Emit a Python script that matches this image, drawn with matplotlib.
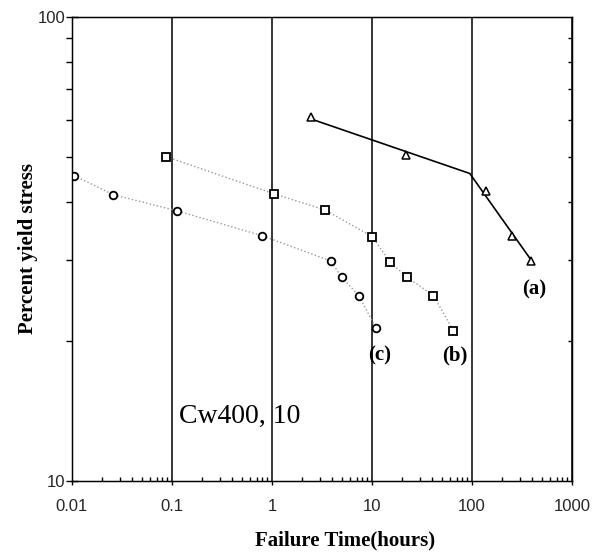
import matplotlib
matplotlib.use('Agg')
import matplotlib.pyplot as plt
from matplotlib.ticker import LogLocator, NullFormatter, FixedLocator

# (a) triangles and bilinear fit line
a_time = [2.45, 21.8, 137, 254, 390]
a_stress = [60.9, 50.3, 42.2, 33.8, 29.8]
a_fit_time = [2.45, 95, 405]
a_fit_stress = [60.3, 46.0, 29.6]

# (b) squares
b_time = [0.0875, 1.04, 3.38, 10.1, 15.0, 22.4, 41.2, 65]
b_stress = [50.0, 41.6, 38.4, 33.6, 29.7, 27.5, 25.1, 21.1]

# (c) circles
c_time = [0.0105, 0.026, 0.113, 0.79, 3.87, 4.97, 7.37, 10.9]
c_stress = [45.5, 41.4, 38.2, 33.8, 29.8, 27.5, 25.1, 21.4]

xticks = [0.01, 0.1, 1, 10, 100, 1000]
xticklabels = ['0.01', '0.1', '1', '10', '100', '1000']
yticks = [10, 100]
yticklabels = ['10', '100']

serif = ['Liberation Serif', 'DejaVu Serif']
sans = ['Liberation Sans', 'DejaVu Sans']

fig = plt.figure(figsize=(6.08, 5.59), dpi=100)
ax = fig.add_axes([72 / 608, 1 - 481 / 559, 500 / 608, 464 / 559])
ax.set_xscale('log')
ax.set_yscale('log')
ax.set_xlim(0.01, 1000)
ax.set_ylim(10, 100)

# vertical grid at each decade
for xv in xticks:
    ax.axvline(xv, color='black', lw=1.1, zorder=1)

ax.plot(c_time, c_stress, ls=':', color='0.6', lw=1, zorder=2)
ax.plot(b_time, b_stress, ls=':', color='0.6', lw=1, zorder=2)
ax.plot(a_fit_time, a_fit_stress, '-', color='black', lw=1.2, zorder=2)

ax.plot(c_time, c_stress, 'o', ls='none', ms=5.5, mfc='white', mec='black', mew=1.3, zorder=3)
ax.plot(b_time, b_stress, 's', ls='none', ms=5.5, mfc='white', mec='black', mew=1.3, zorder=3)
ax.plot(a_time, a_stress, '^', ls='none', ms=6, mfc='white', mec='black', mew=1.1, zorder=3)

ax.text(417, 25.9, '(a)', family=serif, fontweight='bold', fontsize=15, ha='center', va='center')
ax.text(68, 18.6, '(b)', family=serif, fontweight='bold', fontsize=15, ha='center', va='center')
ax.text(11.9, 18.6, '(c)', family=serif, fontweight='bold', fontsize=15, ha='center', va='center')
ax.text(0.47, 13.8, 'Cw400, 10', family=serif, fontsize=20, ha='center', va='center')

ax.xaxis.set_major_locator(FixedLocator(xticks))
ax.set_xticklabels(xticklabels, family=sans, fontsize=12, color='0.15')
ax.xaxis.set_minor_locator(LogLocator(base=10, subs=range(2, 10)))
ax.xaxis.set_minor_formatter(NullFormatter())
ax.yaxis.set_major_locator(FixedLocator(yticks))
ax.set_yticklabels(yticklabels, family=sans, fontsize=12, color='0.15')
ax.yaxis.set_minor_locator(LogLocator(base=10, subs=range(2, 10)))
ax.yaxis.set_minor_formatter(NullFormatter())

ax.tick_params(axis='x', which='major', direction='out', length=3, width=1, pad=10)
ax.tick_params(axis='x', which='minor', direction='in', length=3, width=1)
ax.tick_params(axis='y', which='major', direction='inout', length=8, width=1, pad=1)
ax.tick_params(axis='y', which='minor', direction='out', length=4, width=1)

# right side: small inward minor ticks
ax2 = ax.twinx()
ax2.set_yscale('log')
ax2.set_ylim(10, 100)
ax2.yaxis.set_major_locator(FixedLocator([]))
ax2.yaxis.set_minor_locator(LogLocator(base=10, subs=range(2, 10)))
ax2.yaxis.set_minor_formatter(NullFormatter())
ax2.tick_params(axis='y', which='minor', direction='in', length=3, width=1)

for s in ax.spines.values():
    s.set_linewidth(1)

ax.set_xlabel('Failure Time(hours)', family=serif, fontweight='bold', fontsize=15)
ax.set_ylabel('Percent yield stress', family=serif, fontweight='bold', fontsize=15)
ax.xaxis.set_label_coords(273 / 500, -59 / 464)
ax.yaxis.set_label_coords(-44 / 500, 0.5)
ax.xaxis.label.set_va('center')
ax.yaxis.label.set_va('center')

fig.savefig('out.png', dpi=100)
